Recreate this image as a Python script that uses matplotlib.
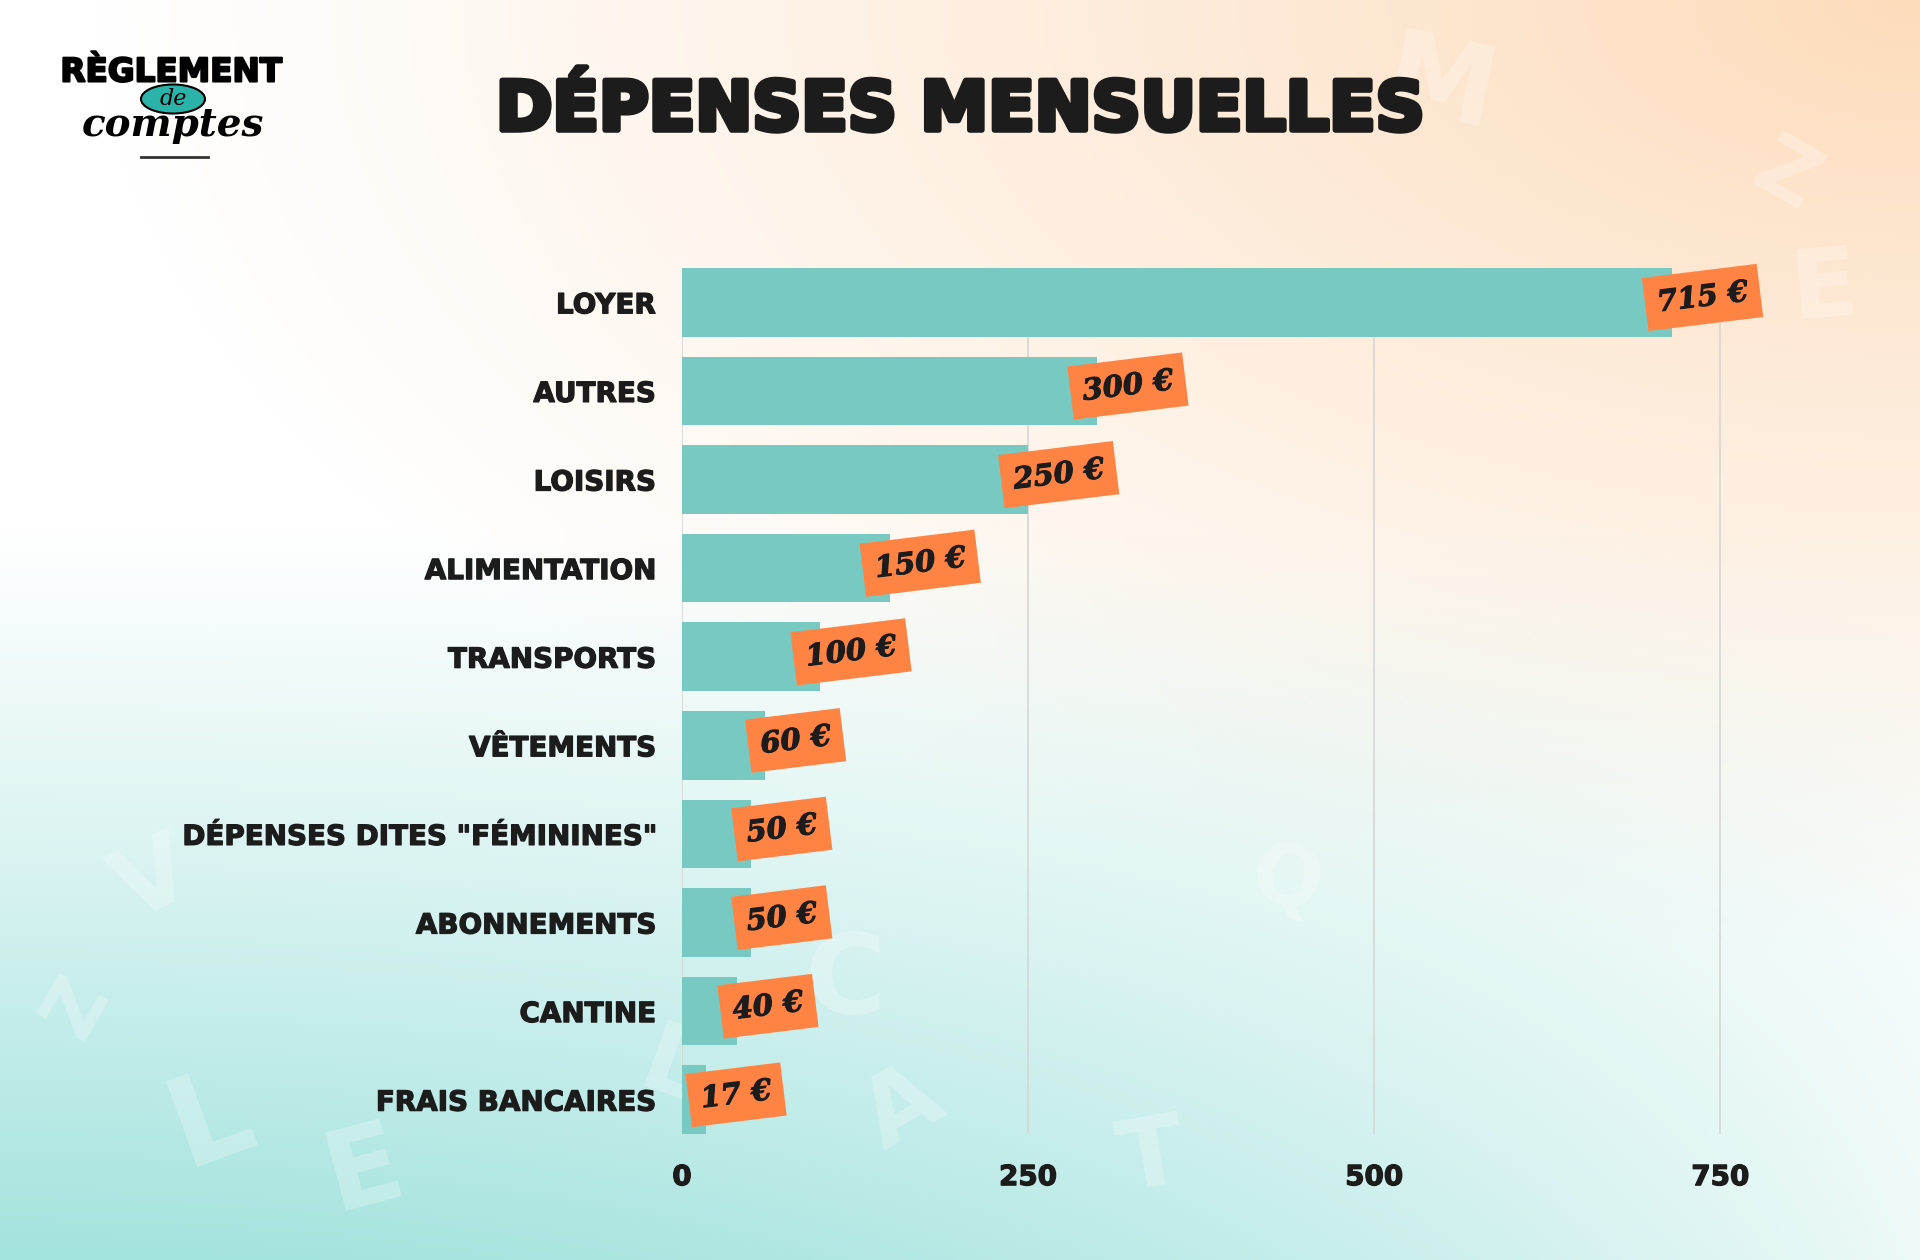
import matplotlib
matplotlib.use("Agg")
import matplotlib.pyplot as plt
import matplotlib.patheffects as pe
from matplotlib.patches import Ellipse
import numpy as np

# ---------------- data ----------------
categories = ["LOYER", "AUTRES", "LOISIRS", "ALIMENTATION", "TRANSPORTS",
              "VÊTEMENTS", 'DÉPENSES DITES "FÉMININES"', "ABONNEMENTS",
              "CANTINE", "FRAIS BANCAIRES"]
values = [715, 300, 250, 150, 100, 60, 50, 50, 40, 17]
x_ticks = [0, 250, 500, 750]
title = "DÉPENSES MENSUELLES"

bar_color = "#77C9C2"
badge_color = "#FF8444"
ink = "#1c1c1c"

W, H = 1920, 1260
fig = plt.figure(figsize=(W / 100, H / 100), dpi=100)

# ---------------- background gradient ----------------
bg = fig.add_axes([0, 0, 1, 1], zorder=-2)
u, v = np.meshgrid(np.linspace(0, 1, 480), np.linspace(0, 1, 315))
d = np.sqrt(((1 - u) * 1.0) ** 2 + (v * 1.25) ** 2)
p = np.clip(1 - d / 0.95, 0, 1) ** 1.1
t = np.clip((v - 0.42) / 0.58, 0, 1) ** 1.1 * np.clip(1 - 0.8 * u ** 2, 0, 1)
p = p * (1 - t)
white = np.array([255, 255, 255]) / 255
peach = np.array([253, 220, 188]) / 255
teal = np.array([164, 227, 222]) / 255
img = (white * (1 - p - t)[..., None] + peach * p[..., None] + teal * t[..., None])
bg.imshow(img, extent=[0, 1, 0, 1], aspect="auto", origin="upper")
bg.set_xlim(0, 1)
bg.set_ylim(0, 1)
bg.axis("off")

# faint decorative letters
deco = [("M", 0.75, 0.93, -12, 80), ("L", 0.11, 0.11, 20, 90), ("E", 0.19, 0.07, 15, 80),
        ("V", 0.08, 0.30, 25, 70), ("L", 0.35, 0.15, -20, 70), ("C", 0.44, 0.22, 0, 80),
        ("Z", 0.93, 0.86, -30, 60), ("T", 0.60, 0.08, 10, 70), ("Q", 0.67, 0.30, -15, 60),
        ("A", 0.47, 0.12, 30, 70), ("E", 0.95, 0.77, 5, 70), ("Z", 0.04, 0.20, 60, 55)]
for ch, xx, yy, rot, sz in deco:
    bg.text(xx, yy, ch, fontsize=sz, fontweight="bold", color="white", alpha=0.25,
            rotation=rot, ha="center", va="center", family="DejaVu Sans")

heavy = lambda w: [pe.withStroke(linewidth=w, foreground=ink)]

# ---------------- main chart ----------------
bar_h = 0.775
ax = fig.add_axes([682 / W, 1 - 1134 / H, (1762 - 682) / W, (1134 - 268) / H])
ax.set_facecolor("none")
y = np.arange(len(categories))
ax.barh(y, values, height=bar_h, color=bar_color, zorder=2)
ax.set_ylim(len(categories) - 1 + bar_h / 2, -bar_h / 2)
ax.set_xlim(0, 780)

ax.set_xticks(x_ticks)
ax.set_xticklabels([str(v) for v in x_ticks])
ax.set_yticks(y)
ax.set_yticklabels(categories)
ax.tick_params(axis="x", length=0, pad=21, labelsize=20, labelcolor=ink)
ax.tick_params(axis="y", length=0, pad=19, labelsize=20, labelcolor=ink)
for lab in ax.get_xticklabels() + ax.get_yticklabels():
    lab.set_fontfamily("DejaVu Sans")
    lab.set_fontweight("bold")
    lab.set_path_effects(heavy(0.9))

ax.grid(axis="x", color="#d6d6d6", lw=1.2, zorder=0)
ax.grid(axis="y", visible=False)
for s in ax.spines.values():
    s.set_visible(False)

for i, val in enumerate(values):
    ax.annotate(f"{val} €", xy=(val, i), xytext=(22, 3.5), textcoords="offset points",
                ha="center", va="center", rotation=7, rotation_mode="anchor",
                fontsize=21, fontweight="bold", fontstyle="italic",
                family="DejaVu Serif", color=ink, zorder=5,
                path_effects=heavy(0.8),
                bbox=dict(boxstyle="square,pad=0.42", fc=badge_color, ec="none"))

# ---------------- title ----------------
fig.text(0.5, 1 - 111 / H, title, ha="center", va="center", fontsize=49,
         fontweight="bold", family="DejaVu Sans", color=ink, path_effects=heavy(4))

# ---------------- logo ----------------
fig.text(171 / W, 1 - 72 / H, "RÈGLEMENT", ha="center", va="center", fontsize=23.5,
         fontweight="bold", family="DejaVu Sans", color="black",
         path_effects=[pe.withStroke(linewidth=1.5, foreground="black")])
fig.add_artist(Ellipse((173 / W, 1 - 99 / H), 64 / W, 29 / H, transform=fig.transFigure,
                       fc="#2bb3aa", ec="black", lw=1.5, zorder=3))
fig.text(173 / W, 1 - 99 / H, "de", ha="center", va="center", fontsize=16,
         fontstyle="italic", family="DejaVu Serif", color="black", zorder=4)
fig.text(173 / W, 1 - 125 / H, "comptes", ha="center", va="center", fontsize=28,
         fontstyle="italic", fontweight="bold", family="DejaVu Serif", color="black", zorder=4)
fig.add_artist(plt.Line2D([141 / W, 208 / W], [1 - 157 / H, 1 - 157 / H],
                          transform=fig.transFigure, color="#333333", lw=2))

fig.savefig("out.png", dpi=100)
